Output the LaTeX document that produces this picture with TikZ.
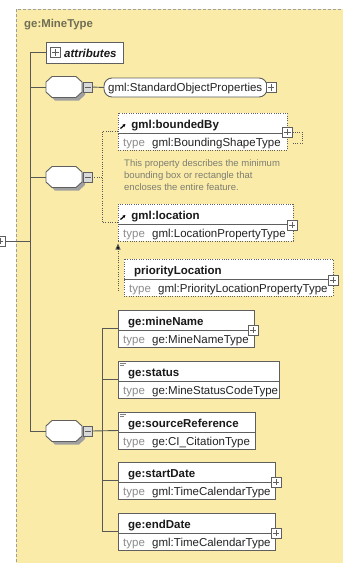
\documentclass[tikz,border=0pt]{standalone}
\usepackage{fontspec}
\setmainfont{Liberation Sans}
\usetikzlibrary{arrows.meta}
\definecolor{bgy}{RGB}{250,236,168}
\definecolor{lnc}{RGB}{88,88,88}
\definecolor{bdc}{RGB}{95,95,95}
\definecolor{ttlc}{RGB}{112,110,84}
\definecolor{typec}{RGB}{140,140,140}
\definecolor{valc}{RGB}{35,35,35}
\definecolor{namec}{RGB}{25,25,25}
\definecolor{docc}{RGB}{125,125,115}
\definecolor{shc}{RGB}{160,160,160}
\newcommand{\fsz}{\fontsize{11.5}{13}\selectfont}
\newcommand{\xelem}[7]{%
  \node[ebox,#2,anchor=north west,minimum width={(#5-#3)*1pt},minimum height=37pt] (#1) at (#3,#4) {};
  \draw[divline] (#3,#4+20.5) -- (#5,#4+20.5);
  \node[nametxt] (#1n) at (#3+10,#4+15) {#6};
  \node[typelbl] (#1t) at (#3+5,#4+33.5) {type};
  \node[typeval] (#1v) at (#3+34,#4+33.5) {#7};
}
\newcommand{\plusbox}[3]{%
  \node[pbox] (#1) at (#2,#3) {};
  \draw[pmline] (#2-3.2,#3) -- (#2+3.2,#3) (#2,#3-3.2) -- (#2,#3+3.2);
}
\newcommand{\seqc}[4]{%
  \fill[shc] (#2-12+3,#3-10.5+3) -- (#2+12+3,#3-10.5+3) -- (#2+18+3,#3-5+3) -- (#2+18+3,#3+5+3) -- (#2+12+3,#3+10.5+3) -- (#2-12+3,#3+10.5+3) -- (#2-18+3,#3+5+3) -- (#2-18+3,#3-5+3) -- cycle;
  \draw[draw=bdc,fill=white,line width=0.9pt] (#2-12,#3-10.5) -- (#2+12,#3-10.5) -- (#2+18,#3-5) -- (#2+18,#3+5) -- (#2+12,#3+10.5) -- (#2-12,#3+10.5) -- (#2-18,#3+5) -- (#2-18,#3-5) -- cycle;
  \node[inner sep=0pt,outer sep=0pt,minimum width=36pt,minimum height=21pt] (#1) at (#2,#3) {};
  \node[mbox] (#4) at (#2+23.5,#3) {};
  \draw[pmline] (#2+20.5,#3) -- (#2+26.5,#3);
}
\begin{document}
\begin{tikzpicture}[x=1pt,y=-1pt,
  conn/.style={draw=lnc,line width=0.9pt},
  dotconn/.style={draw=lnc,line width=0.9pt,dash pattern=on 1pt off 1.3pt},
  ebox/.style={draw=bdc,fill=white,line width=0.9pt,inner sep=0pt,outer sep=0pt,rectangle},
  optb/.style={dash pattern=on 1pt off 1.3pt},
  reqb/.style={},
  divline/.style={draw=bdc,line width=0.8pt},
  nametxt/.style={anchor=base west,inner sep=0pt,font=\fsz\bfseries,text=namec},
  typelbl/.style={anchor=base west,inner sep=0pt,font=\fsz,text=typec},
  typeval/.style={anchor=base west,inner sep=0pt,font=\fsz,text=valc},
  doctxt/.style={anchor=base west,inner sep=0pt,font=\fontsize{9.5}{12}\selectfont,text=docc},
  pbox/.style={rectangle,draw=bdc,fill=white,line width=0.8pt,minimum width=10pt,minimum height=10pt,inner sep=0pt,outer sep=0pt},
  mbox/.style={rectangle,draw=bdc,fill=gray!30,line width=0.8pt,minimum width=9pt,minimum height=10pt,inner sep=0pt,outer sep=0pt},
  pmline/.style={draw=bdc,line width=0.9pt},
  reficon/.style={-{Stealth[length=3pt,width=3pt]},line width=1.2pt,draw=black}]
\useasboundingbox (0,0) rectangle (343,563);
\clip (0,0) rectangle (343,563);
% background
\draw[fill=bgy,draw=gray!75,dash pattern=on 3pt off 2pt,line width=0.8pt] (16,9) rectangle (370,590);
\node[anchor=base west,inner sep=0pt,font=\fontsize{11.4}{13}\selectfont\bfseries,text=ttlc] (title) at (24,27) {ge:MineType};
% root element stub
\draw[draw=gray!50,fill=white,line width=0.8pt] (-40,222) rectangle (-0.5,258);
\plusbox{rootp}{0}{241}
\coordinate (trunk) at (30,52);
% attributes
\node[ebox,anchor=north west,minimum width=77pt,minimum height=21pt] (attr) at (46,42) {};
\plusbox{attrp}{55.5}{52.5}
\node[anchor=base west,inner sep=0pt,font=\fsz\bfseries\itshape,text=namec] (attrt) at (64,57) {attributes};
% compositors
\seqc{c1}{64}{87}{c1m}
\seqc{c2}{64}{177}{c2m}
\seqc{c3}{64}{431}{c3m}
% trunk connections
\draw[conn] (attr.west) -- (attr.west -| trunk) |- (c3.west);
\draw[conn] (c1.west) -- (c1.west -| trunk);
\draw[conn] (c2.west) -- (c2.west -| trunk);
\draw[conn] (rootp.east) -- (rootp.east -| trunk);
% group ref
\node[draw=bdc,fill=white,line width=0.9pt,rounded corners=8pt,anchor=west,minimum width=163pt,minimum height=19pt,inner sep=0pt,outer sep=0pt] (sop) at (104,87.5) {};
\node[anchor=base west,inner sep=0pt,font=\fsz,text=valc] (sopt) at (108,91.6) {gml:StandardObjectProperties};
\plusbox{sopp}{271}{87.5}
\draw[conn] (c1m.east) -- (sop.west);
% optional sequence
\xelem{bb}{optb}{118}{113}{287}{\phantom{,}gml:boundedBy}{gml:BoundingShapeType}
\plusbox{bbp}{287.5}{132}
\draw[reficon] (120.5,128.5) -- (125.5,124);
\node[doctxt] (doc1) at (124,166.5) {This property describes the minimum};
\node[doctxt] (doc2) at (124,178) {bounding box or rectangle that};
\node[doctxt] (doc3) at (124,190.5) {encloses the entire feature.};
\xelem{loc}{optb}{118}{204}{293}{\phantom{,}gml:location}{gml:LocationPropertyType}
\plusbox{locp}{292}{225}
\draw[reficon] (120.5,219.5) -- (125.5,215);
\xelem{prio}{optb}{124}{259}{333}{priorityLocation}{gml:PriorityLocationPropertyType}
\plusbox{priop}{333}{280}
\coordinate (j2) at (102,0);
\draw[dotconn] (c2m.east) -- (c2m.east -| j2);
\draw[dotconn] (bb.west) -| (loc.west -| j2) -- (loc.west);
\draw[dotconn] (bbp.east) -- ++(10,0) -- ++(0,11) -- ++(-11,0);
\coordinate (pbot) at (118,291);
\draw[dotconn,-{Triangle[length=6pt,width=5pt,fill=black]}] (pbot) -- ([yshift=-2.5pt]loc.south west);
% required sequence
\xelem{mn}{reqb}{118}{310}{254}{ge:mineName}{ge:MineNameType}
\plusbox{mnp}{253}{330}
\xelem{st}{reqb}{118}{361}{279}{ge:status}{ge:MineStatusCodeType}
\draw[draw=gray,line width=0.8pt] (120,363.2) -- (126,363.2) (120,365.2) -- (124,365.2);
\xelem{sr}{reqb}{118}{412}{255}{ge:sourceReference}{ge:CI\_CitationType}
\draw[draw=gray,line width=0.8pt] (120,414.2) -- (126,414.2) (120,416.2) -- (124,416.2);
\xelem{sd}{reqb}{118}{462}{275}{ge:startDate}{gml:TimeCalendarType}
\plusbox{sdp}{276}{482}
\xelem{ed}{reqb}{118}{513}{275}{ge:endDate}{gml:TimeCalendarType}
\plusbox{edp}{276}{533}
\draw[conn] (c3m.east) -- (sr.west);
\draw[conn] (mn.west) -| (ed.west -| j2) -- (ed.west);
\draw[conn] (st.west) -- (st.west -| j2);
\draw[conn] (sd.west) -- (sd.west -| j2);
\end{tikzpicture}
\end{document}
